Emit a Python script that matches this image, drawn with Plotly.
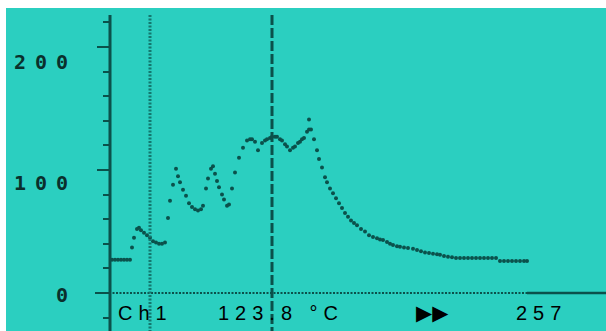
import plotly.graph_objects as go

# logged temperature trace (time in samples, temp in degC)
time = [2, 5, 8, 11, 14, 17, 20, 22, 24, 27, 29,
        31, 34, 37, 40, 43, 46, 49, 52, 55,
        58, 60, 63, 66,
        68, 70, 73, 76, 79, 82, 85, 88, 91, 93,
        96, 98, 101, 103,
        105, 107, 109, 112, 114, 117, 119,
        122, 125, 129, 133, 137, 140, 142, 145, 148, 152, 155, 157, 160, 162, 165, 167,
        170, 172, 175, 177, 180, 183, 185, 188, 190, 192, 194, 197, 199, 199, 201,
        204, 207, 209, 212, 215, 217, 220, 223, 226, 229, 232, 235, 238, 241, 244, 247,
        251, 255, 259, 263, 267, 270, 273, 277, 280, 283, 287, 290, 294, 298, 303, 307,
        311, 315, 319, 323, 327, 330, 334, 338, 342, 346, 350, 354, 358, 362, 366, 370,
        374, 378, 382, 386, 390, 394, 398, 402, 406, 410, 414, 417]
temp = [27, 27, 27, 27, 27, 27, 27, 37, 45, 52, 53,
        51, 49, 47, 45, 42, 41, 40, 40, 41,
        61, 75, 88, 101,
        95, 90, 84, 79, 73, 70, 68, 67, 68, 71,
        85, 93, 101, 103,
        97, 91, 86, 80, 76, 71, 72,
        85, 98, 110, 118, 124, 125, 125, 123, 116, 122, 124, 125, 126, 127, 127, 127,
        125, 124, 121, 119, 116, 118, 119, 122, 123, 125, 126, 131, 133, 141, 133,
        125, 116, 109, 102, 94, 90, 85, 81, 77, 73, 69, 65, 62, 59, 57, 55,
        52, 50, 47, 45.5, 44.5, 43.5, 43, 41.5, 40, 39, 38, 37.5, 37, 36.5, 36, 35,
        34, 33, 32.5, 32, 31.5, 31, 30, 29.5, 29, 28.5, 28.5, 28.5, 28.5, 28.5, 28.5, 28.5,
        28.5, 28.5, 28.5, 28.5, 26, 26, 26, 26, 26, 26, 26, 26]

y_major = [0, 100, 200]
y_labels = ['200', '100', '0']
cursor1 = 40
cursor2 = 162
end_time = 417
readout = ['Ch1', '123.8 °C', '▶▶', '257']

bg = '#2bcfc0'
dark = '#0b514b'

fig = go.Figure()
fig.add_trace(go.Scatter(
    x=time, y=temp, mode='markers',
    marker=dict(size=4, color=dark),
    hoverinfo='skip'))

shapes = [
    # y axis line
    dict(type='line', x0=0, x1=0, y0=226, y1=-31, line=dict(color=dark, width=3)),
    # zero line, dotted over the run, solid after it
    dict(type='line', x0=-15, x1=end_time, y0=0, y1=0, line=dict(color=dark, width=2, dash='2px,1.5px')),
    dict(type='line', x0=end_time, x1=496, y0=0, y1=0, line=dict(color=dark, width=2.5)),
    # cursors
    dict(type='line', x0=cursor1, x1=cursor1, y0=226, y1=-31, line=dict(color='#13786f', width=3, dash='2px,1.5px')),
    dict(type='line', x0=cursor2, x1=cursor2, y0=226, y1=-31, line=dict(color=dark, width=3, dash='10px,3px')),
]

annotations = []
for lab, yy in zip(y_labels, [187.8, 89.4, -1.6]):
    annotations.append(dict(
        x=-31, y=yy, xref='x', yref='y', xanchor='right', yanchor='middle',
        text='<b><span style="letter-spacing:9px">' + lab + '</span></b>', showarrow=False,
        font=dict(family='DejaVu Sans Mono', size=20, color='#0a302c')))

for txt, xx, fam, sz in zip(readout, [6, 106, 304, 404], ['Liberation Sans', 'Liberation Sans', 'DejaVu Sans', 'Liberation Sans'], [20, 20, 21, 20]):
    annotations.append(dict(
        x=xx, y=-16.3, xref='x', yref='y', xanchor='left', yanchor='middle',
        text='<span style="letter-spacing:6px">' + txt + '</span>' if fam == 'Liberation Sans' else txt,
        showarrow=False, font=dict(family=fam, size=sz, color='black')))

fig.update_layout(
    width=606, height=331,
    margin=dict(l=6, r=0, t=8, b=0, pad=0),
    paper_bgcolor='white', plot_bgcolor=bg,
    showlegend=False,
    shapes=shapes, annotations=annotations,
    xaxis=dict(range=[-104, 496], visible=False, showgrid=False, zeroline=False),
    yaxis=dict(range=[-30.9, 231.7], anchor='free', position=104 / 600,
               showgrid=False, zeroline=False, showline=False, showticklabels=False,
               tickvals=y_major, ticks='outside', ticklen=13, tickwidth=2, tickcolor=dark,
               minor=dict(dtick=20, tick0=0, ticks='outside', ticklen=7, tickwidth=2, tickcolor=dark)),
)

fig.write_html('out.html', config={'displayModeBar': False},
               post_script="document.body.style.margin='0';")
